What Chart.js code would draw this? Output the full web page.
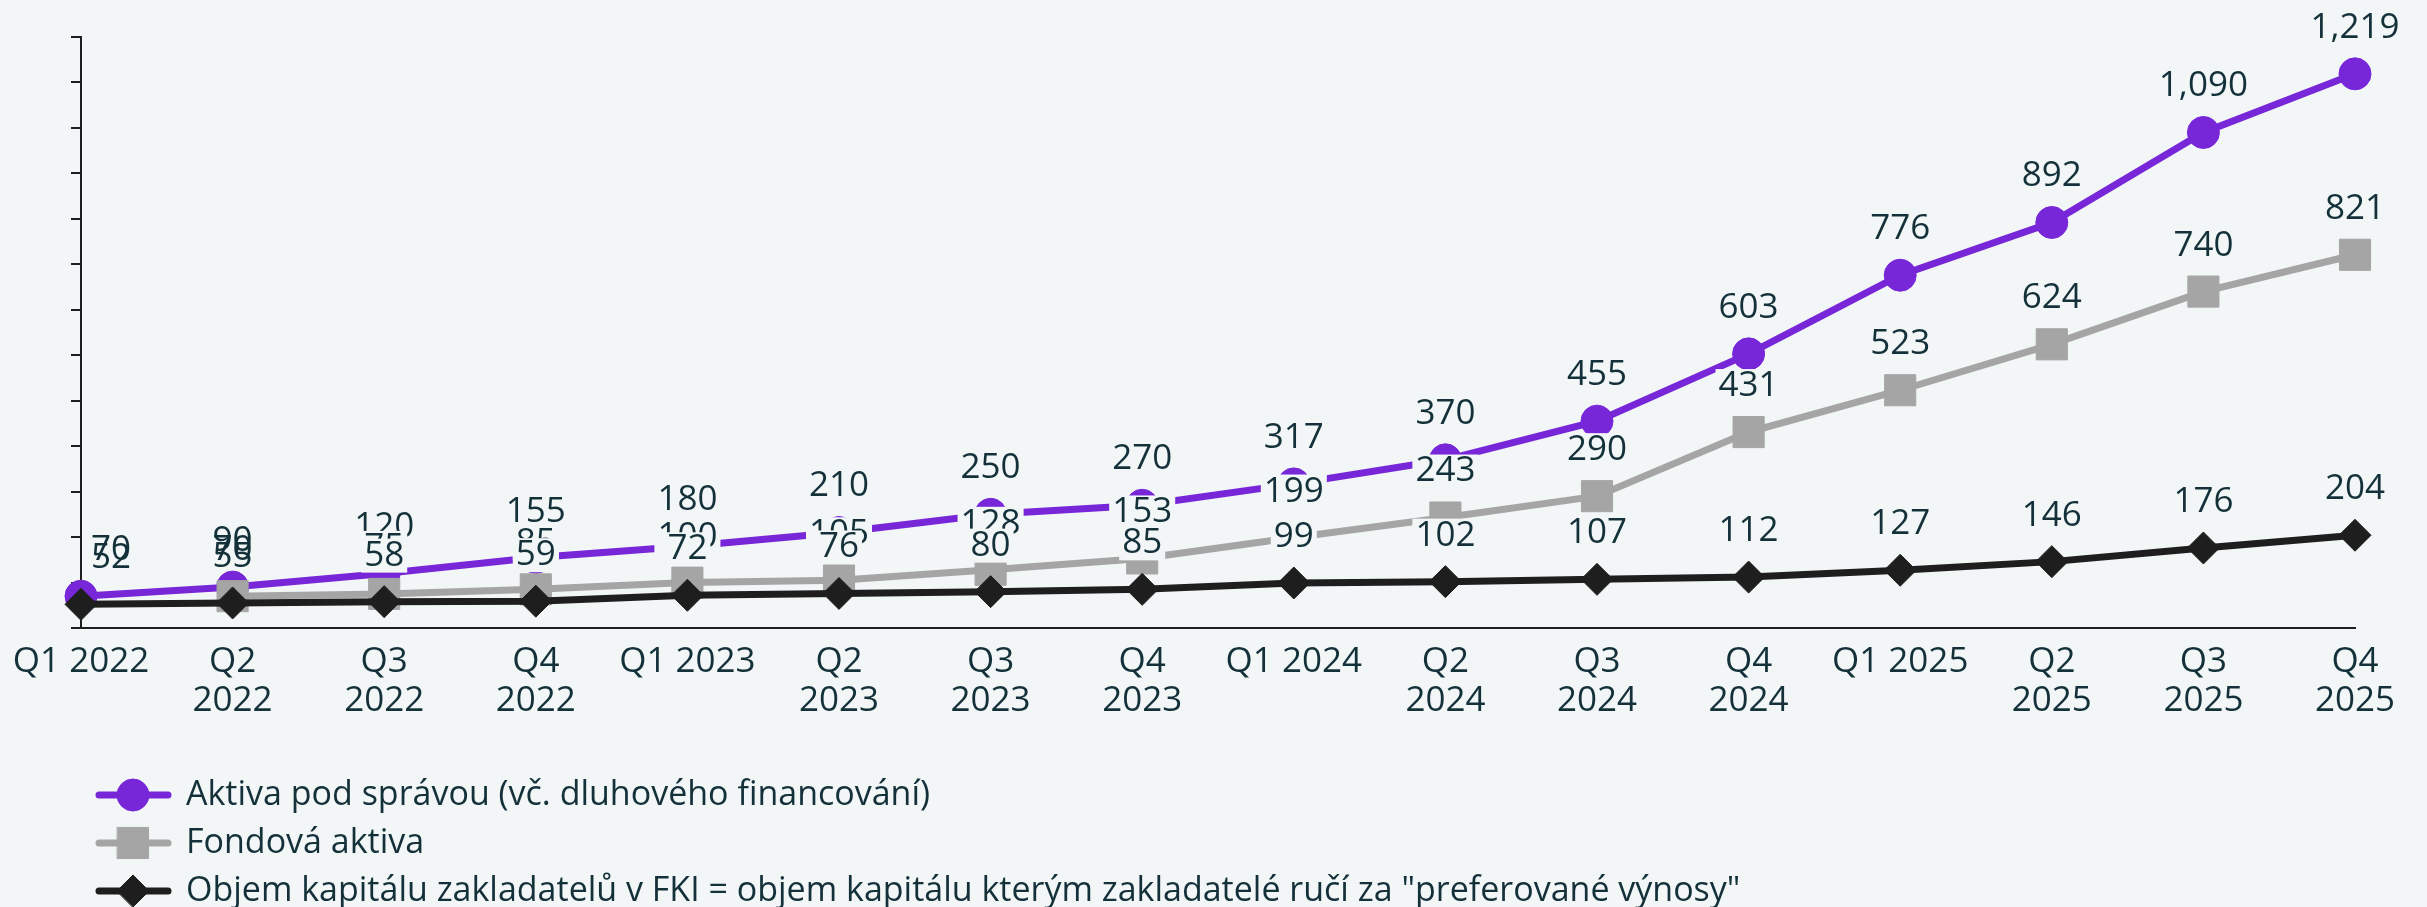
<!DOCTYPE html>
<html>
<head>
<meta charset="utf-8">
<script src="https://cdn.jsdelivr.net/npm/chart.js@4.4.1/dist/chart.umd.min.js"></script>
<style>
  html, body { margin: 0; padding: 0; background: #f2f6f7; }
  #wrap { width: 2427px; height: 907px; }
</style>
</head>
<body>
<div id="wrap"><canvas id="chart" width="2427" height="907"></canvas></div>
<script>
// ---------------------------------------------------------------------------
// Data
// ---------------------------------------------------------------------------

const quarters = [
    'Q1 2022', ['Q2', '2022'], ['Q3', '2022'], ['Q4', '2022'],
    'Q1 2023', ['Q2', '2023'], ['Q3', '2023'], ['Q4', '2023'],
    'Q1 2024', ['Q2', '2024'], ['Q3', '2024'], ['Q4', '2024'],
    'Q1 2025', ['Q2', '2025'], ['Q3', '2025'], ['Q4', '2025']
];

const assetsUnderManagement = [70, 90, 120, 155, 180, 210, 250, 270, 317, 370, 455, 603, 776, 892, 1090, 1219];
const fundAssets = [null, 70, 75, 85, 100, 105, 128, 153, 199, 243, 290, 431, 523, 624, 740, 821];
const founderCapital = [52, 55, 58, 59, 72, 76, 80, 85, 99, 102, 107, 112, 127, 146, 176, 204];

const seriesNames = [
    'Aktiva pod správou (vč. dluhového financování)',
    'Fondová aktiva',
    'Objem kapitálu zakladatelů v FKI = objem kapitálu kterým zakladatelé ručí za "preferované výnosy"'
];

const yTicksMax = 1300;
const yTickStep = 100;

// ---------------------------------------------------------------------------
// Theme
// ---------------------------------------------------------------------------

const FONT = '"Open Sans", "Noto Sans", sans-serif';
const BG = '#f2f6f7';
const TEXT = '#14313a';
const AXIS = '#1e1e1e';
const COLORS = { purple: '#7726d8', gray: '#a5a5a5', black: '#1e1e1e' };

// point value labels with a background box, drawn over all lines
const pointLabels = {
    id: 'pointLabels',
    afterDatasetsDraw(chart) {
        const ctx = chart.ctx;
        ctx.save();
        ctx.font = `35px ${FONT}`;
        ctx.textAlign = 'center';
        ctx.textBaseline = 'middle';
        chart.data.datasets.forEach((ds, i) => {
            const meta = chart.getDatasetMeta(i);
            meta.data.forEach((pt, j) => {
                const v = ds.data[j];
                if (v == null) return;
                const text = v.toLocaleString('en-US');
                const w = ctx.measureText(text).width;
                // first label is pushed off the axis, like the original
                const x = j === 0 ? pt.x + 30 : pt.x;
                const y = pt.y - 46;
                if (j > 1) {
                    ctx.fillStyle = BG;
                    ctx.fillRect(x - w / 2 - 3, y - 17, w + 6, 34);
                }
                ctx.fillStyle = TEXT;
                ctx.fillText(text, x, y);
            });
        });
        ctx.restore();
    }
};

// vertical legend at the bottom left
const lineLegend = {
    id: 'lineLegend',
    afterDraw(chart) {
        const ctx = chart.ctx;
        ctx.save();
        chart.data.datasets.forEach((ds, i) => {
            const y = 795 + i * 48;
            ctx.strokeStyle = ds.borderColor;
            ctx.lineWidth = 7;
            ctx.lineCap = 'round';
            ctx.beginPath();
            ctx.moveTo(99, y);
            ctx.lineTo(168, y);
            ctx.stroke();
            ctx.fillStyle = ds.pointBackgroundColor;
            ctx.strokeStyle = ds.pointBackgroundColor;
            ctx.lineWidth = 1;
            Chart.helpers.drawPoint(ctx, {
                pointStyle: ds.pointStyle,
                radius: ds.pointRadius,
                rotation: 0,
                borderWidth: 1
            }, 133, y);
            ctx.fillStyle = TEXT;
            ctx.font = `34px ${FONT}`;
            ctx.textAlign = 'left';
            ctx.textBaseline = 'middle';
            ctx.fillText(ds.label, 186, y);
        });
        ctx.restore();
    }
};

function makeSeries(label, data, color, pointStyle, radius, order) {
    return {
        label,
        data,
        borderColor: color,
        backgroundColor: color,
        pointBackgroundColor: color,
        pointBorderColor: color,
        borderWidth: 7,
        pointStyle,
        pointRadius: radius,
        pointHoverRadius: radius,
        pointBorderWidth: 1,
        tension: 0,
        order
    };
}

new Chart(document.getElementById('chart'), {
    type: 'line',
    data: {
        labels: quarters,
        datasets: [
            makeSeries(seriesNames[0], assetsUnderManagement, COLORS.purple, 'circle', 16, 3),
            makeSeries(seriesNames[1], fundAssets, COLORS.gray, 'rect', 22, 2),
            makeSeries(seriesNames[2], founderCapital, COLORS.black, 'rectRot', 16, 1)
        ]
    },
    options: {
        responsive: false,
        animation: false,
        devicePixelRatio: 1,
        layout: { padding: { left: 0, right: 72, top: 37, bottom: 179 } },
        scales: {
            x: {
                offset: false,
                grid: { display: false },
                border: { display: true, color: AXIS, width: 2 },
                ticks: {
                    color: TEXT,
                    font: { family: FONT, size: 35, lineHeight: 1.11 },
                    padding: 7,
                    maxRotation: 0,
                    minRotation: 0,
                    autoSkip: false
                },
                afterFit(scale) { scale.height = 100; }
            },
            y: {
                min: 0,
                max: yTicksMax,
                grid: {
                    display: true,
                    drawOnChartArea: false,
                    drawTicks: true,
                    tickLength: 10,
                    color: AXIS,
                    lineWidth: 2
                },
                border: { display: true, color: AXIS, width: 2 },
                ticks: { display: false, stepSize: yTickStep },
                afterFit(scale) { scale.width = 81; }
            }
        },
        plugins: {
            legend: { display: false },
            tooltip: { enabled: false }
        }
    },
    plugins: [pointLabels, lineLegend]
});
</script>
</body>
</html>
